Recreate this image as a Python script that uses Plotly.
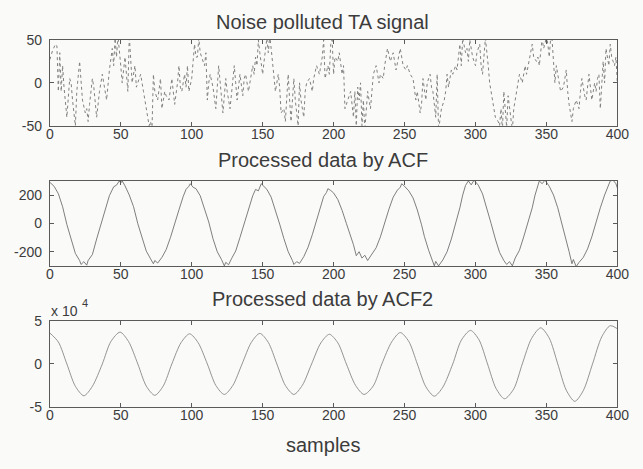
import plotly.graph_objects as go

# ---- data -------------------------------------------------------------
sample_ticks = [0, 50, 100, 150, 200, 250, 300, 350, 400]

# noisy TA signal (sample index, amplitude)
noise_x = [0, 2, 4, 5, 6, 7, 8, 9, 10, 12, 14, 15, 16, 18, 19, 21, 23, 25, 26, 27, 28, 30, 31, 33, 35, 37, 38, 40,
           42, 44, 45, 46, 47, 48, 50, 51, 53, 55, 56, 57, 58, 60, 61, 62, 64, 66, 68, 70, 71, 72, 73, 74, 76, 78,
           79, 81, 82, 84, 86, 87, 88, 90, 91, 92, 93, 95, 96, 97, 98, 100, 101, 102, 103, 104, 105, 106, 107, 109,
           110, 111, 112, 113, 115, 117, 119, 120, 121, 122, 124, 125, 127, 129, 130, 131, 132, 134, 135, 136, 137,
           138, 140, 141, 143, 144, 145, 146, 147, 148, 150, 151, 152, 153, 154, 155, 156, 157, 159, 161, 162, 163,
           165, 166, 167, 168, 169, 170, 172, 173, 175, 176, 177, 179, 180, 181, 183, 184, 185, 186, 188, 189, 190,
           191, 192, 193, 194, 196, 197, 198, 199, 200, 201, 203, 204, 206, 207, 208, 210, 212, 214, 215, 216, 217,
           218, 219, 220, 221, 222, 223, 224, 226, 228, 230, 232, 233, 235, 236, 238, 240, 241, 242, 244, 245, 247,
           248, 249, 251, 252, 254, 256, 258, 259, 261, 262, 263, 265, 266, 268, 269, 270, 272, 273, 274, 276, 278,
           279, 280, 281, 283, 284, 286, 287, 289, 290, 291, 293, 294, 295, 296, 298, 300, 301, 303, 304, 305, 306,
           307, 309, 310, 312, 314, 316, 317, 318, 319, 320, 321, 322, 323, 325, 326, 327, 328, 330, 331, 333, 335,
           336, 338, 340, 341, 343, 344, 345, 347, 348, 349, 350, 351, 352, 353, 354, 356, 357, 358, 360, 362, 364,
           365, 366, 368, 369, 371, 373, 374, 375, 377, 378, 380, 381, 382, 384, 385, 386, 387, 388, 389, 390, 391,
           392, 393, 394, 395, 396, 397, 398, 399, 400]
noise_y = [27, 38, 45, 43, -10, 35, -10, 20, -5, -40, 5, 0, -20, -50, -10, 25, -20, -35, -30, -45, -25, 5, -5, -40,
           -10, 10, 0, -20, 15, 40, 20, 52, 30, 55, 20, 0, 30, -10, 55, 20, 0, 20, -5, 0, 10, -10, -30, -50, -45, -55,
           10, -10, -20, 5, -30, -10, -15, -20, 5, -10, -25, 0, 20, -5, -10, 10, -5, 20, -10, 5, 25, 45, 30, 30, 52,
           35, 30, 20, 35, -20, 0, 10, -5, -30, 20, 0, -10, -35, 5, -10, -30, 5, 20, 0, -20, 10, -5, -15, 5, 10, -10,
           0, 20, 10, 30, 20, 50, 35, 10, 25, 40, 52, 35, 55, 40, 20, -10, 10, -5, -35, -30, -45, -10, 10, -20, -45,
           5, -20, -50, 0, -20, -40, -10, 0, 5, -5, -10, 5, 20, 15, 10, 20, 30, 50, 5, 20, 10, 45, 50, 10, 30, 25, 35,
           10, 20, -30, -20, -10, -40, -10, -50, -5, -20, 0, -50, -20, -55, -30, -10, -30, 10, 20, 0, 10, 5, 20, 40,
           25, 30, 35, 15, 25, 40, 30, 20, 15, 20, 10, 5, -20, -10, -35, -25, 5, -20, 0, 10, -5, -10, -40, 10, -55,
           -30, -20, -10, 10, -5, 15, 10, 20, 15, 45, 20, 52, 35, 40, 25, 50, 30, 20, 35, 45, 20, 10, 30, 52, 20, 0,
           -20, -40, -45, -50, -30, -55, -10, -40, -52, -15, -40, -55, -30, -20, -5, 10, 0, 20, 10, 30, 45, 30, 25,
           30, 20, 52, 40, 45, 55, 45, 30, 52, 50, 0, 20, 10, -10, -5, 15, -10, -25, -45, -30, -20, -30, -10, 5, -15,
           -20, 10, -5, -20, 0, -10, 5, 10, -30, 0, 25, 0, 40, 30, 20, 45, 30, 25, 20, 30, 0]

# first autocorrelation output
acf_x = [0, 3, 6, 9, 12, 15, 18, 21, 22, 24, 26,
         27, 30, 33, 36, 39, 42, 45, 47, 49, 50, 51,
         53, 56, 59, 62, 65, 68, 71, 73, 74, 76,
         79, 82, 85, 88, 91, 94, 96, 98, 99, 101,
         103, 106, 109, 112, 115, 118, 121, 123, 124, 126,
         128, 131, 134, 137, 140, 143, 145, 147, 149, 151,
         153, 156, 159, 162, 165, 168, 171, 172, 174, 176,
         179, 182, 185, 188, 191, 193, 195, 196, 198,
         200, 203, 206, 209, 212, 214, 216, 218, 220, 222, 224,
         227, 230, 233, 236, 239, 242, 245, 247, 248, 250,
         253, 256, 259, 262, 264, 267, 269, 271, 272, 274,
         277, 280, 283, 286, 289, 291, 293, 295, 297, 299,
         302, 305, 308, 311, 314, 317, 320, 322, 324, 326,
         328, 331, 334, 337, 340, 342, 344, 345, 347, 349,
         352, 355, 358, 361, 364, 366, 368, 369, 371, 373,
         376, 379, 382, 385, 388, 391, 393, 395, 397, 399, 400]
acf_y = [290, 262, 210, 118, -8, -105, -212, -262, -290, -270, -295,
         -262, -220, -110, -10, 108, 196, 258, 270, 300, 285, 300,
         265, 200, 118, -2, -100, -196, -250, -285, -262, -280,
         -240, -185, -100, 5, 95, 190, 240, 262, 280, 255,
         245, 195, 100, 10, -108, -200, -255, -300, -275, -292,
         -250, -195, -100, -5, 105, 195, 240, 230, 280, 258,
         240, 185, 98, -5, -108, -200, -262, -290, -270, -282,
         -235, -168, -80, 15, 120, 190, 218, 245, 232,
         215, 168, 92, 0, -90, -150, -228, -200, -245, -225, -262,
         -215, -172, -95, 5, 100, 185, 235, 255, 280, 262,
         230, 180, 95, -10, -92, -190, -245, -300, -268, -300,
         -258, -200, -110, -5, 110, 200, 268, 300, 272, 305,
         270, 208, 110, 0, -110, -205, -262, -290, -270, -300,
         -245, -190, -95, 10, 110, 200, 262, 300, 280, 305,
         262, 200, 110, 0, -110, -200, -285, -255, -305, -275,
         -240, -180, -95, 10, 110, 200, 258, 300, 305, 280, 250]

# second autocorrelation output, in units of 10^4
acf2_x = [0, 6, 12, 18, 24, 30, 37, 43, 49.5, 55.5, 62, 68, 74, 80, 86, 92.5, 98.5, 104.5, 111, 117, 123, 129,
          135.5, 142, 148, 154, 160, 166, 172, 178, 184.5, 191, 197, 203, 209, 215.5, 221.5, 228, 234, 241, 247,
          253, 259, 265, 271, 277, 284, 290, 296.5, 302.5, 308.5, 314.5, 320.5, 327, 333, 339.5, 346, 352, 358,
          364, 370, 376, 382.5, 389, 395, 400]
acf2_y = [3.60, 2.55, 0.00, -2.60, -3.70, -2.60, 0.00, 2.60, 3.70, 2.60, 0.00, -2.58, -3.65, -2.55, 0.00, 2.48,
          3.50, 2.48, 0.00, -2.50, -3.55, -2.50, 0.00, 2.50, 3.55, 2.50, 0.00, -2.50, -3.55, -2.48, 0.00, 2.44,
          3.45, 2.45, 0.00, -2.50, -3.55, -2.55, 0.00, 2.58, 3.65, 2.62, 0.00, -2.65, -3.75, -2.70, 0.00, 2.75,
          3.90, 2.80, 0.00, -2.85, -4.05, -2.90, 0.00, 2.95, 4.20, 3.00, 0.00, -3.05, -4.35, -3.10, 0.00, 3.15,
          4.45, 4.10]
ACF2_UNIT = 1e4

# ---- figure -----------------------------------------------------------
W, H = 643, 469
BG = "#fafaf9"
AX = "#5a5a5a"
TXT = "#3c3c3c"
FONT = "Liberation Sans, Arial, sans-serif"


def px_x(p):
    return p / W


def px_y(p):
    return 1 - p / H


fig = go.Figure()
fig.add_trace(go.Scatter(x=noise_x, y=noise_y, mode="lines",
                         line=dict(color="#808080", width=1, dash="dot"),
                         xaxis="x", yaxis="y", showlegend=False))
fig.add_trace(go.Scatter(x=acf_x, y=acf_y, mode="lines",
                         line=dict(color="#707070", width=0.9),
                         xaxis="x2", yaxis="y2", showlegend=False))
fig.add_trace(go.Scatter(x=acf2_x, y=[v * ACF2_UNIT for v in acf2_y], mode="lines",
                         line=dict(color="#888888", width=0.9, shape="spline", smoothing=0.8),
                         xaxis="x3", yaxis="y3", showlegend=False))

xdom = [px_x(47), px_x(629)]
panels = [(33, 122), (179, 267), (324, 413)]
ranges = [[-50, 50], [-300, 300], [-5e4, 5e4]]
yticks = [([-50, 0, 50], ["-50", "0", "50"]),
          ([-200, 0, 200], ["-200", "0", "200"]),
          ([-5e4, 0, 5e4], ["-5", "0", "5"])]

common_axis = dict(showline=True, linecolor=AX, linewidth=1, mirror="ticks",
                   ticks="inside", ticklen=4, tickcolor=AX, showgrid=False, zeroline=False,
                   tickfont=dict(family=FONT, size=14, color=TXT))

layout = dict(width=W, height=H, margin=dict(l=0, r=0, t=0, b=0),
              paper_bgcolor=BG, plot_bgcolor=BG, font=dict(family=FONT, color=TXT))
for i, ((top, bot), rng, (tv, tt)) in enumerate(zip(panels, ranges, yticks), start=1):
    sfx = "" if i == 1 else str(i)
    layout["xaxis" + sfx] = dict(domain=xdom, range=[0, 400], tickvals=sample_ticks,
                                 anchor="y" + sfx, ticklabelstandoff=-5, **common_axis)
    layout["yaxis" + sfx] = dict(domain=[px_y(bot), px_y(top)], range=rng, tickvals=tv, ticktext=tt,
                                 anchor="x" + sfx, ticklabelstandoff=4, **common_axis)
fig.update_layout(**layout)

titles = [("Noise polluted TA signal", 14), ("Processed data by ACF", 157), ("Processed data by ACF2", 301),
          ("samples", 452)]
for text, ypx in titles:
    fig.add_annotation(text=text, x=px_x(327), y=px_y(ypx), xref="paper", yref="paper",
                       showarrow=False, xanchor="center", yanchor="middle",
                       font=dict(family=FONT, size=20, color=TXT))

# exponent label for the third panel
fig.add_annotation(text="x 10", x=px_x(46), y=px_y(314), xref="paper", yref="paper",
                   showarrow=False, xanchor="left", yanchor="middle",
                   font=dict(family=FONT, size=14, color=TXT))
fig.add_annotation(text="4", x=px_x(78), y=px_y(305), xref="paper", yref="paper",
                   showarrow=False, xanchor="left", yanchor="middle",
                   font=dict(family=FONT, size=11, color=TXT))

fig.write_html("out.html")
